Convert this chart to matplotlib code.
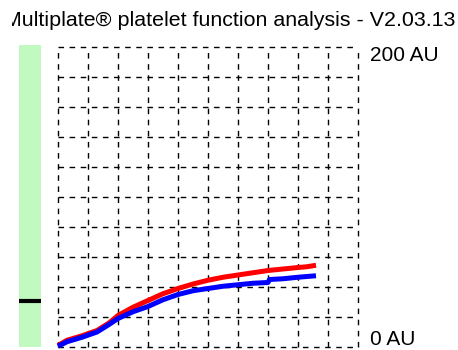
import matplotlib
matplotlib.use('Agg')
import matplotlib.pyplot as plt
from matplotlib import font_manager

# multiplate aggregation curves (x in grid divisions, y in AU)
red_x = [0, 0.3, 0.8, 1.3, 1.7, 2.0, 2.5, 3.0, 3.5, 4.0, 4.5, 5.0, 5.5, 6.0, 6.5, 7.0, 7.5, 8.0, 8.3, 8.6]
red_y = [1, 4.5, 7.5, 11, 16, 21, 26.5, 31, 35.5, 39, 42, 44.5, 46.5, 48, 49.5, 51, 52, 53, 53.5, 54.5]
blue_x = [0, 0.3, 0.8, 1.3, 1.7, 2.0, 2.5, 3.0, 3.5, 4.0, 4.5, 5.0, 5.5, 6.0, 6.5, 7.0, 7.05, 7.5, 8.0, 8.3, 8.6]
blue_y = [0.5, 3.5, 6.5, 10, 15, 19, 23.5, 27, 31.5, 35, 37.5, 39, 40.5, 41.5, 42.5, 43, 45, 45.5, 46.5, 47, 47.5]

marker_value = 31
title = 'Multiplate\u00ae platelet function analysis - V2.03.13'
top_label = '200 AU'
bottom_label = '0 AU'

names = {f.name for f in font_manager.fontManager.ttflist}
fam = ['Liberation Sans Narrow'] if 'Liberation Sans Narrow' in names else ['Liberation Sans']

W, H = 458, 350
fig = plt.figure(figsize=(W / 100, H / 100), dpi=100)

# main grid area
ax = fig.add_axes([58 / W, 3 / H, 300 / W, 300 / H])
ax.set_xlim(0, 10)
ax.set_ylim(0, 200)
ax.axis('off')
for i in range(11):
    ax.axvline(i, color='black', lw=1, ls=(0, (4, 4)), clip_on=False, zorder=1)
    ax.axhline(i * 20, color='black', lw=1, ls=(0, (4, 4)), clip_on=False, zorder=1)

ax.plot(red_x, red_y, color='#ff0000', lw=3.6, solid_capstyle='butt', clip_on=False, zorder=3)
ax.plot(blue_x, blue_y, color='#0000ff', lw=3.6, solid_capstyle='butt', clip_on=False, zorder=4)

# green bar with black marker
bar = fig.add_axes([19 / W, 3 / H, 22 / W, 302 / H])
bar.set_facecolor('#c0fac0')
bar.set_xlim(0, 1)
bar.set_ylim(0, 200 * 302 / 300)
bar.set_xticks([])
bar.set_yticks([])
for s in bar.spines.values():
    s.set_visible(False)
bar.axhline(marker_value, color='black', lw=3)

# title, clipped at the left like the screen capture
tax = fig.add_axes([12 / W, 0, 1 - 12 / W, 1])
tax.axis('off')
tax.set_xlim(0, 1)
tax.set_ylim(0, 1)
tax.text(1 - 3 / W, 1 - 11 / H, title, ha='right', va='top', fontsize=15.4,
         family=fam, color='black', clip_on=True, transform=fig.transFigure)

fig.text(370 / W, 1 - 46 / H, top_label, ha='left', va='top', fontsize=15, family=fam)
fig.text(370 / W, 1 / H, bottom_label, ha='left', va='bottom', fontsize=15, family=fam)

fig.savefig('out.png', dpi=100)
